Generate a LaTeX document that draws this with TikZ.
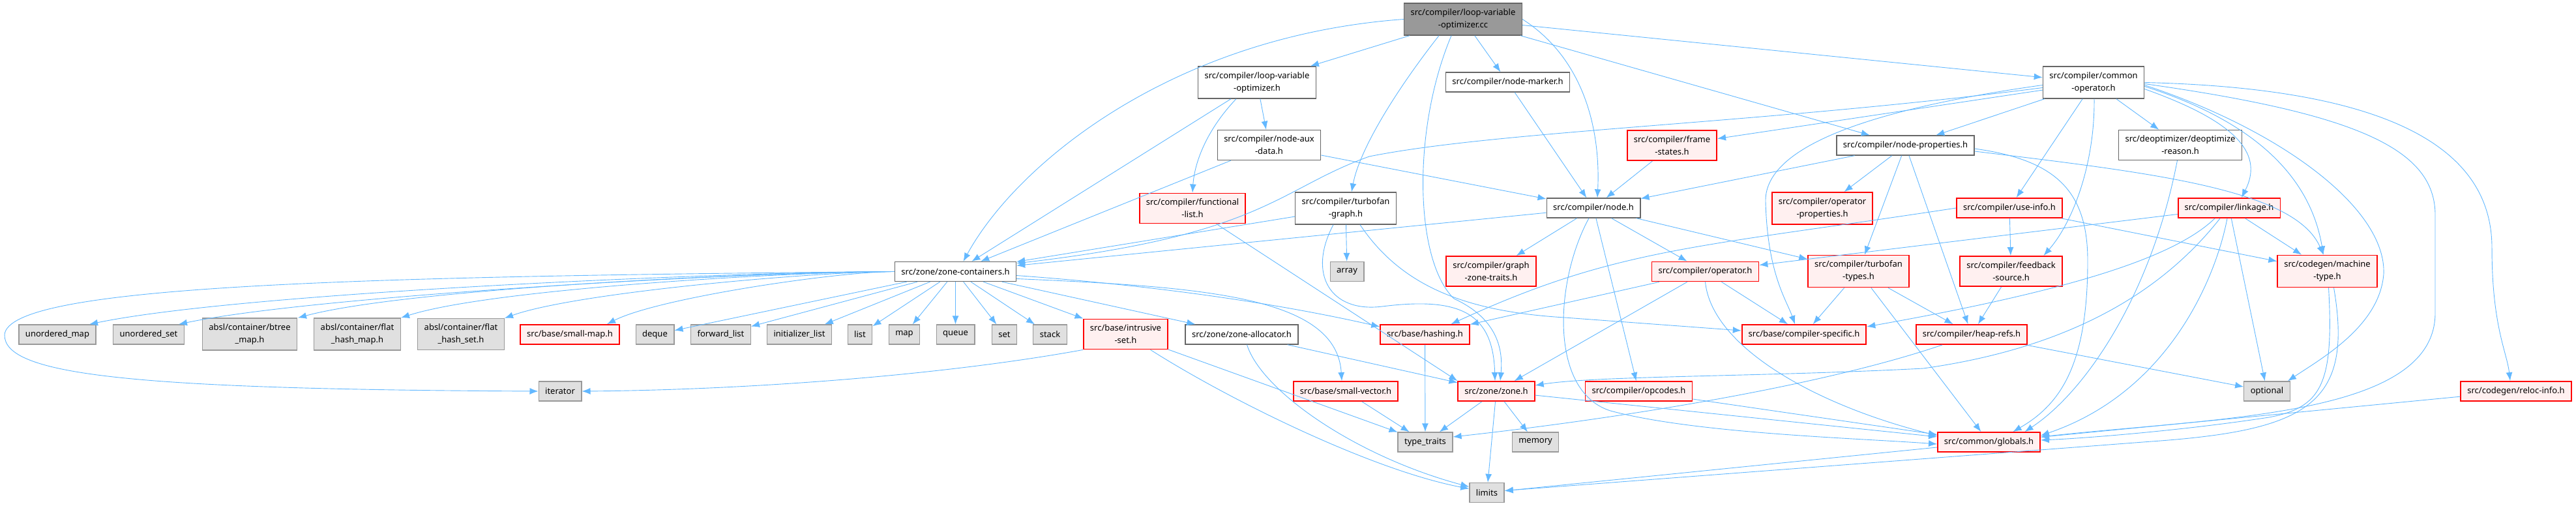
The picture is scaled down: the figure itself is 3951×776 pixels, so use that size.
\documentclass[tikz,border=0pt]{standalone}
\usepackage{fontspec}
\setmainfont{Noto Sans}
\usetikzlibrary{arrows.meta, positioning}
\definecolor{edgeblue}{RGB}{99,184,255}
\definecolor{plainline}{RGB}{102,102,102}
\definecolor{truncline}{RGB}{255,0,0}
\definecolor{truncfill}{RGB}{255,240,240}
\definecolor{extline}{RGB}{153,153,153}
\definecolor{extfill}{RGB}{224,224,224}
\definecolor{rootfill}{RGB}{153,153,153}

\begin{document}
\begin{tikzpicture}[
  x=1pt, y=-1pt,
  box/.style={rectangle, draw=#1, line width=1.3pt, inner xsep=10pt, inner ysep=8.5pt,
    minimum height=30pt, font=\fontsize{13}{19}\selectfont, align=center},
  file/.style={box=plainline, fill=white},
  trunc/.style={box=truncline, fill=truncfill, line width=1.8pt},
  ext/.style={box=extline, fill=extfill},
  main/.style={box=plainline, fill=rootfill},
  arrow/.style={-{Latex[length=13pt,width=10pt]}, line width=0.9pt, draw=edgeblue}
]
\useasboundingbox (0,0) rectangle (3951,776);

\node[main] (lvocc) at (2244,29.5) {src/compiler/loop-variable\\-optimizer.cc};
\node[file] (lvoh) at (1928,126.5) {src/compiler/loop-variable\\-optimizer.h};
\node[file] (marker) at (2312.5,126) {src/compiler/node-marker.h};
\node[file] (commonop) at (3211,126.5) {src/compiler/common\\-operator.h};
\node[file] (auxdata) at (1946.5,222.5) {src/compiler/node-aux\\-data.h};
\node[trunc] (frame) at (2564.5,223) {src/compiler/frame\\-states.h};
\node[file] (props) at (2922.5,223) {src/compiler/node-properties.h};
\node[file] (deopt) at (3344,222.5) {src/deoptimizer/deoptimize\\-reason.h};
\node[trunc] (funclist) at (1829,319.5) {src/compiler/functional\\-list.h};
\node[file] (tfgraph) at (2064,319.5) {src/compiler/turbofan\\-graph.h};
\node[file] (nodeh) at (2444,319) {src/compiler/node.h};
\node[trunc] (opprops) at (2795,319.5) {src/compiler/operator\\-properties.h};
\node[trunc] (useinfo) at (3082,319) {src/compiler/use-info.h};
\node[trunc] (linkage) at (3419,319) {src/compiler/linkage.h};
\node[file] (zc) at (1465.5,416.5) {src/zone/zone-containers.h};
\node[ext] (array) at (2066,416.5) {array};
\node[trunc] (gztraits) at (2287,416) {src/compiler/graph\\-zone-traits.h};
\node[trunc] (operator) at (2615.5,416.5) {src/compiler/operator.h};
\node[trunc] (tftypes) at (2850.5,416) {src/compiler/turbofan\\-types.h};
\node[trunc] (feedback) at (3084.5,416) {src/compiler/feedback\\-source.h};
\node[trunc] (mtype) at (3569.5,416) {src/codegen/machine\\-type.h};
\node[ext] (umap) at (88,513) {unordered\_map};
\node[ext] (uset) at (228,513) {unordered\_set};
\node[ext] (btree) at (383,512.5) {absl/container/btree\\\_map.h};
\node[ext] (fhmap) at (548,512.5) {absl/container/flat\\\_hash\_map.h};
\node[ext] (fhset) at (707,512.5) {absl/container/flat\\\_hash\_set.h};
\node[trunc] (smallmap) at (874,513) {src/base/small-map.h};
\node[ext] (deque) at (1004.5,513) {deque};
\node[ext] (fwdlist) at (1105.5,513) {forward\_list};
\node[ext] (initlist) at (1226,513) {initializer\_list};
\node[ext] (list) at (1319,513) {list};
\node[ext] (map) at (1387,513) {map};
\node[ext] (queue) at (1465.5,513) {queue};
\node[ext] (set) at (1540.5,513) {set};
\node[ext] (stack) at (1610.5,513) {stack};
\node[trunc] (intrusive) at (1726.5,512.5) {src/base/intrusive\\-set.h};
\node[file] (zalloc) at (1904.5,513) {src/zone/zone-allocator.h};
\node[trunc] (hashing) at (2185.5,513) {src/base/hashing.h};
\node[trunc] (cspec) at (2767,513) {src/base/compiler-specific.h};
\node[trunc] (heaprefs) at (3024,513) {src/compiler/heap-refs.h};
\node[ext] (iterator) at (859,600) {iterator};
\node[trunc] (smallvec) at (2064,600) {src/base/small-vector.h};
\node[trunc] (zone) at (2295,600) {src/zone/zone.h};
\node[trunc] (opcodes) at (2513.5,600) {src/compiler/opcodes.h};
\node[ext] (optional) at (3477,600) {optional};
\node[trunc] (reloc) at (3859,600) {src/codegen/reloc-info.h};
\node[ext] (typetraits) at (2186,678) {type\_traits};
\node[ext] (memory) at (2355,678) {memory};
\node[trunc] (globals) at (3050.5,678) {src/common/globals.h};
\node[ext] (limits) at (2280.5,755.5) {limits};

\foreach \a/\b in {lvocc/lvoh, lvocc/marker, lvocc/props, lvocc/commonop,
    lvoh/zc, lvoh/auxdata, auxdata/zc, auxdata/nodeh, marker/nodeh, frame/nodeh,
    props/nodeh, props/opprops, props/tftypes, props/heaprefs,
    commonop/frame, commonop/props, commonop/useinfo, commonop/deopt,
    tfgraph/zc, tfgraph/array, nodeh/zc, nodeh/gztraits, nodeh/opcodes,
    nodeh/operator, nodeh/tftypes, useinfo/feedback, useinfo/mtype,
    linkage/operator, linkage/mtype, linkage/optional,
    zc/deque, zc/fwdlist, zc/initlist, zc/list, zc/map, zc/queue, zc/set, zc/stack,
    zc/intrusive, zc/zalloc, operator/hashing, operator/zone, operator/cspec,
    tftypes/cspec, tftypes/heaprefs, tftypes/globals, feedback/heaprefs,
    heaprefs/optional, zalloc/zone, hashing/typetraits, smallvec/typetraits,
    intrusive/typetraits, zone/typetraits, zone/memory, zone/limits, zone/globals,
    opcodes/globals, reloc/globals, globals/limits}
  \draw[arrow] (\a) -- (\b);

\foreach \t/\s/\ca/\cb/\cc in {umap/49/1129/374/448, uset/46/1156/484/453,
    btree/74/1191/631/441, fhmap/67/1222/757/442, fhset/67/1253/885/448,
    smallmap/57/1283/1009/457}
  \draw[arrow] (zc.west) .. controls (\ca,416.5) and (\cb,\cc) .. ([xshift=\s pt]\t.north);

\draw[arrow] (funclist) -- (zone.north west);
\draw[arrow] (lvocc.west) .. controls (1800,55) and (1560,250) .. ([xshift=12pt]zc.north);
\draw[arrow] ([xshift=-37pt]lvocc.south) .. controls (2140,140) and (2085,230) .. ([xshift=9pt]tfgraph.north);
\draw[arrow] ([xshift=-18pt]lvocc.south) .. controls (2165,200) and (2170,400) .. (2230,458)
  .. controls (2300,490) and (2305,540) .. ([xshift=6pt]zone.north);
\draw[arrow] (lvocc.east) .. controls (2430,90) and (2455,200) .. ([xshift=6pt]nodeh.north);
\draw[arrow] ([xshift=-32pt]lvoh.south) .. controls (1850,200) and (1832,250) .. (funclist.north);
\draw[arrow] ([yshift=-8pt]commonop.west) .. controls (2700,190) and (2300,200) .. (2100,240)
  .. controls (1960,290) and (1940,360) .. ([yshift=-3pt]zc.north east);
\draw[arrow] ([yshift=-4pt]commonop.west) .. controls (2850,170) and (2705,230) .. (2708,310)
  .. controls (2711,420) and (2740,460) .. ([xshift=-14pt]cspec.north);
\draw[arrow] ([xshift=1pt]commonop.south) .. controls (3213,250) and (3180,340) .. ([xshift=50pt]feedback.north);
\draw[arrow] ([yshift=-10pt]commonop.east) .. controls (3440,190) and (3470,240) .. ([xshift=19pt]linkage.north);
\draw[arrow] ([yshift=-6pt]commonop.east) .. controls (3470,190) and (3545,280) .. ([xshift=-6pt]mtype.north);
\draw[arrow] ([yshift=-4pt]commonop.east) .. controls (3500,200) and (3660,320) .. (3656,420)
  .. controls (3650,500) and (3560,550) .. ([xshift=-4pt]optional.north east);
\draw[arrow] ([yshift=-2pt]commonop.east) .. controls (3620,175) and (3735,230) .. (3735,330)
  -- (3735,480) .. controls (3735,640) and (3400,640) .. ([yshift=8pt]globals.east);
\draw[arrow] (commonop.east) .. controls (3650,135) and (3822,220) .. (3822,380)
  .. controls (3822,500) and (3845,540) .. ([xshift=-9pt]reloc.north);
\draw[arrow] ([yshift=-9pt]props.east) .. controls (3300,265) and (3520,290) .. ([xshift=-6pt]mtype.north);
\draw[arrow] ([yshift=-5pt]props.east) .. controls (3150,245) and (3202,290) .. (3202,400)
  .. controls (3202,560) and (3160,620) .. ([xshift=37pt]globals.north);
\draw[arrow] (deopt) .. controls (3300,450) and (3200,600) .. ([xshift=55pt]globals.north);
\draw[arrow] ([xshift=-7pt]nodeh.south) .. controls (2385,430) and (2375,600) .. (2470,630)
  .. controls (2600,665) and (2850,672) .. ([yshift=-3pt]globals.west);
\draw[arrow] (operator.south) .. controls (2625,530) and (2780,620) .. ([yshift=10pt]globals.west);
\draw[arrow] ([xshift=-19pt]tfgraph.south) .. controls (2005,420) and (2040,480) .. (2120,470)
  .. controls (2240,455) and (2290,480) .. ([xshift=-2pt]zone.north);
\draw[arrow] ([xshift=22pt]tfgraph.south) .. controls (2150,440) and (2250,478) .. (2400,487)
  -- ([yshift=6pt]cspec.west);
\draw[arrow] (useinfo.west) .. controls (2600,380) and (2480,380) .. ([xshift=40pt]hashing.north);
\draw[arrow] ([xshift=-14pt]linkage.south) .. controls (3330,430) and (3200,530) .. (2950,565)
  .. controls (2700,578) and (2450,576) .. ([yshift=9pt]zone.east);
\draw[arrow] ([xshift=-3pt]linkage.south) .. controls (3400,420) and (3330,600) .. ([yshift=10pt]globals.east);
\draw[arrow] ([xshift=-22pt]linkage.south) .. controls (3330,400) and (3150,450) .. ([yshift=12pt]cspec.east);
\draw[arrow] ([xshift=2pt]mtype.south) .. controls (3580,590) and (3560,625) .. (3480,640)
  .. controls (3350,660) and (3200,672) .. ([yshift=3pt]globals.east);
\draw[arrow] ([xshift=10pt]mtype.south) .. controls (3610,620) and (3540,660) .. (3300,677)
  -- ([yshift=3pt]limits.east);
\draw[arrow] ([xshift=-45pt]heaprefs.south) .. controls (2800,590) and (2500,640) .. ([yshift=8pt]typetraits.east);
\draw[arrow] (intrusive.south west) .. controls (1450,575) and (1150,598) .. (iterator.east);
\draw[arrow] ([xshift=38pt]intrusive.south) .. controls (1880,610) and (2100,720) .. ([yshift=6pt]limits.west);
\draw[arrow] ([xshift=8pt]zalloc.south) .. controls (1935,600) and (2080,700) .. ([yshift=9pt]limits.west);
\draw[arrow] (zc.west) .. controls (500,424) and (15,440) .. (7,513)
  .. controls (5,575) and (200,597) .. (iterator.west);
\draw[arrow] ([yshift=-6pt]zc.east) .. controls (1800,440) and (1980,470) .. ([yshift=12pt]hashing.west);
\draw[arrow] ([yshift=-11pt]zc.east) .. controls (1850,440) and (2050,455) .. ([xshift=-6pt]smallvec.north);
\end{tikzpicture}
\end{document}
